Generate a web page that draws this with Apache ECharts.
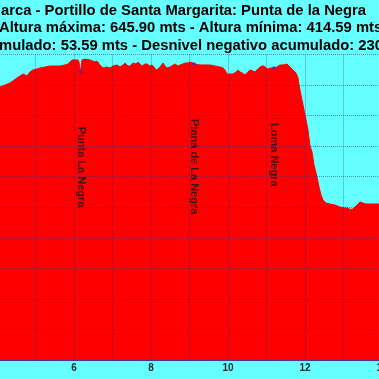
<!DOCTYPE html>
<html><head><meta charset="utf-8">
<script src="https://cdn.jsdelivr.net/npm/echarts@6/dist/echarts.min.js"></script>
<style>html,body{margin:0;padding:0;background:#66ffff}#c{width:379px;height:379px}</style>
</head><body><div id="c"></div>
<script>
// Title lines (visible part of the cropped chart)
const titleLines = [
  'arca - Portillo de Santa Margarita: Punta de la Negra',
  'Altura máxima: 645.90 mts - Altura mínima: 414.59 mts',
  'mulado: 53.59 mts - Desnivel negativo acumulado: 230'
];
// Profile: distance (km) and elevation (m)
const distKm = [4.00,4.078,4.208,4.338,4.442,4.519,4.597,4.675,4.779,4.857,4.935,5.039,5.117,5.247,5.377,5.506,5.636,5.766,5.844,5.896,5.948,6.026,6.104,6.130,6.156,6.182,6.208,6.286,6.416,6.545,6.597,6.675,6.753,6.857,6.935,7.013,7.117,7.195,7.273,7.325,7.403,7.455,7.532,7.610,7.662,7.714,7.766,7.844,7.896,7.974,8.026,8.078,8.130,8.182,8.234,8.312,8.364,8.416,8.494,8.545,8.623,8.701,8.753,8.831,8.883,8.961,9.013,9.091,9.143,9.273,9.403,9.532,9.662,9.792,9.870,9.922,9.974,10.052,10.130,10.208,10.260,10.312,10.364,10.442,10.519,10.571,10.649,10.701,10.779,10.831,10.883,10.935,10.987,11.039,11.091,11.143,11.195,11.273,11.351,11.429,11.532,11.610,11.688,11.766,11.818,11.844,11.922,12.000,12.078,12.130,12.182,12.234,12.312,12.364,12.416,12.468,12.545,12.649,12.779,12.909,13.039,13.117,13.169,13.247,13.299,13.377,13.429,13.506,13.584,13.688,13.818,13.922,14.0];
const elevM = [601.5,603.0,606.1,609.2,613.8,616.9,620.0,623.0,620.0,626.1,629.2,630.7,632.2,633.8,635.3,635.3,635.3,636.9,638.4,641.5,644.6,644.6,644.6,641.5,627.6,632.2,644.6,645.9,644.6,641.5,643.0,636.9,632.2,633.8,632.2,635.3,636.9,633.8,636.9,639.9,635.3,635.3,639.9,638.4,641.5,638.4,635.3,638.4,638.4,635.3,636.9,633.8,629.2,630.7,633.8,639.9,635.3,632.2,633.8,633.8,638.4,635.3,636.9,638.4,639.9,639.9,641.5,639.9,638.4,636.9,636.9,636.9,635.3,633.8,632.2,629.2,623.0,623.0,623.0,626.1,629.2,626.1,624.6,621.5,626.1,629.2,627.6,626.1,630.7,633.8,635.3,635.3,632.2,630.7,632.2,632.2,632.2,633.8,636.9,636.9,638.4,633.8,629.2,624.6,617.0,606.1,583.0,559.9,536.9,512.2,503.0,483.0,464.5,449.2,436.9,429.2,424.5,423.0,421.4,418.4,416.8,416.8,414.59,415.3,418.4,423.0,426.1,424.5,423.0,423.0,423.0,423.0,423.0];
// Waypoints
const wpNames = ['Punta La Negra', 'Piana de La Negra', 'Loma Negra'];
const wpKm = [6.17, 9.12, 11.19];
const wpElev = [626.5, 638.4, 632.2];
// X tick labels shown
const xTickLabels = [6, 8, 10, 12, 14];

const FONT = "'Liberation Sans', Arial, sans-serif";
const chart = echarts.init(document.getElementById('c'), null, {renderer: 'canvas'});
const titleTops = [3, 20.5, 38];
const titleLefts = [1, -1, -1];
chart.setOption({
  backgroundColor: '#66ffff',
  animation: false,
  title: titleLines.map((t, i) => ({
    text: t, left: titleLefts[i], top: titleTops[i], padding: 0,
    textStyle: {fontFamily: FONT, fontSize: 14.8, fontWeight: 'bold', color: '#000'}
  })),
  grid: {left: -3, right: -3, top: 54.5, bottom: 19, containLabel: false, outerBoundsMode: 'none'},
  xAxis: {
    type: 'value', min: 4, max: 14, interval: 1, z: 10,
    axisLine: {show: true, lineStyle: {color: '#3a3a9a', width: 1}},
    axisTick: {show: false},
    axisLabel: {
      show: true, margin: 3, showMinLabel: true, showMaxLabel: true, hideOverlap: false,
      fontFamily: FONT, fontSize: 10, fontWeight: 'bold', color: '#0a2a2a',
      formatter: v => xTickLabels.indexOf(v) >= 0 ? String(v) : ''
    },
    splitLine: {show: true, lineStyle: {type: 'dotted', color: 'rgba(20,60,160,0.55)', width: 1}}
  },
  yAxis: [
    {type: 'value', min: 183, max: 653, show: false, splitLine: {show: false}},
    {type: 'value', min: 0, max: 10, interval: 1, z: 10,
     axisLine: {show: false}, axisTick: {show: false}, axisLabel: {show: false},
     splitLine: {show: true, lineStyle: {type: 'dotted', color: 'rgba(20,60,160,0.55)', width: 1}}}
  ],
  series: [
    {
      type: 'line', yAxisIndex: 0, z: 2,
      data: distKm.map((d, i) => [d, elevM[i]]),
      showSymbol: false, smooth: false,
      lineStyle: {color: '#ff0000', width: 1},
      areaStyle: {color: '#ff0000', opacity: 1, origin: 'start'}
    },
    {
      type: 'scatter', yAxisIndex: 0, z: 12,
      data: wpKm.map((k, i) => ({name: wpNames[i], value: [k, wpElev[i]]})),
      symbol: 'circle', symbolSize: 3.5,
      itemStyle: {color: '#3333cc'},
      label: {
        show: true, formatter: p => p.name, position: 'inside',
        rotate: -90, align: 'left', verticalAlign: 'middle',
        padding: [0, 0, 6, 55],
        fontFamily: FONT, fontSize: 11, fontWeight: 'bold', color: '#111'
      }
    }
  ]
});
</script></body></html>
